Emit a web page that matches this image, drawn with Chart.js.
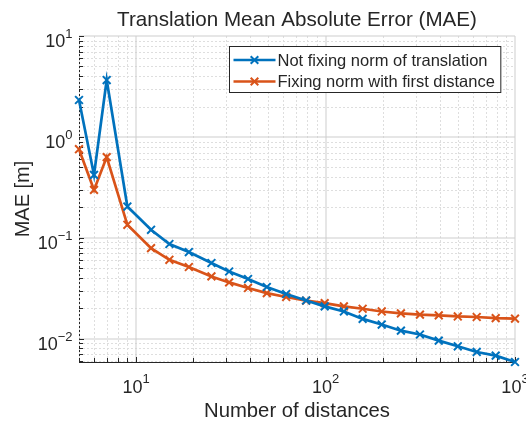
<!DOCTYPE html>
<html>
<head>
<meta charset="utf-8">
<script src="https://cdn.jsdelivr.net/npm/chart.js@4.4.0/dist/chart.umd.min.js"></script>
<style>
  html, body { margin: 0; padding: 0; background: #fff; }
</style>
</head>
<body>
<canvas id="maeChart" width="526" height="426"></canvas>
<script>
const distances = [5, 6, 7, 9, 12, 15, 19, 25, 31, 39, 49, 62, 79, 99, 125, 157, 198, 250, 315, 396, 499, 628, 791, 1000];
const maeNotFixed = [2.32, 0.42, 3.66, 0.204, 0.12, 0.0867, 0.0722, 0.0562, 0.0463, 0.0390, 0.0325, 0.0277,
  0.0239, 0.0209, 0.0186, 0.0157, 0.0138, 0.0120, 0.0110, 0.00956, 0.0084, 0.00738, 0.00679, 0.00587];
const maeFixed = [0.755, 0.298, 0.63, 0.1345, 0.079, 0.0605, 0.0513, 0.0414, 0.0361, 0.0318, 0.0283, 0.0259,
  0.0238, 0.0225, 0.0209, 0.0198, 0.0186, 0.0178, 0.0173, 0.0170, 0.0166, 0.0164, 0.0160, 0.0158];
const seriesLabels = ['Not fixing norm of translation', 'Fixing norm with first distance'];
const xTickExponents = [1, 2, 3];
const yTickExponents = [-2, -1, 0, 1];

const FONT = "'Liberation Sans', Arial, Helvetica, sans-serif";
const TEXT = '#262626';
const BLUE = '#0072BD';
const ORANGE = '#D95319';

function toPoints(ys) {
  return distances.map((d, i) => ({ x: d, y: ys[i] }));
}

// values 1..9 x 10^n that fall inside [min, max]
function logValues(min, max) {
  const out = [];
  for (let e = Math.floor(Math.log10(min)); e <= Math.ceil(Math.log10(max)); e++) {
    for (let m = 1; m <= 9; m++) {
      const v = m * Math.pow(10, e);
      if (v >= min * 0.9999 && v <= max * 1.0001) out.push({ v, major: m === 1 });
    }
  }
  return out;
}

// matlab-ish grid, inward ticks, superscript tick labels and legend box
const matlabAxes = {
  id: 'matlabAxes',
  beforeDatasetsDraw(chart) {
    const { ctx, chartArea: a, scales: { x, y } } = chart;
    const xs = logValues(x.min, x.max);
    const ys = logValues(y.min, y.max);
    ctx.save();
    ctx.lineWidth = 1;
    [false, true].forEach(major => {
      // major lines sit between pixels so they come out soft and 2px wide
      const off = major ? 0 : 0.5;
      ctx.setLineDash(major ? [] : [2, 2]);
      ctx.strokeStyle = major ? '#cdcdcd' : '#dedede';
      ctx.beginPath();
      xs.filter(t => t.major === major).forEach(t => {
        const px = Math.round(x.getPixelForValue(t.v)) + off;
        ctx.moveTo(px, a.top); ctx.lineTo(px, a.bottom);
      });
      ys.filter(t => t.major === major).forEach(t => {
        const py = Math.round(y.getPixelForValue(t.v)) + off;
        ctx.moveTo(a.left, py); ctx.lineTo(a.right, py);
      });
      ctx.stroke();
    });
    // ticks pointing inwards
    ctx.setLineDash([]);
    ctx.strokeStyle = TEXT;
    ctx.beginPath();
    xs.forEach(t => {
      const px = Math.round(x.getPixelForValue(t.v)) + 0.5;
      ctx.moveTo(px, a.bottom); ctx.lineTo(px, a.bottom - (t.major ? 5 : 4));
    });
    ys.forEach(t => {
      const py = Math.round(y.getPixelForValue(t.v)) + 0.5;
      ctx.moveTo(a.left, py); ctx.lineTo(a.left + (t.major ? 5 : 4), py);
    });
    ctx.stroke();
    ctx.restore();
  },
  afterDraw(chart) {
    const { ctx, chartArea: a, scales: { x, y } } = chart;
    ctx.save();
    ctx.fillStyle = TEXT;
    ctx.textBaseline = 'alphabetic';
    ctx.textAlign = 'left';
    const base = '18px ' + FONT, sup = '13px ' + FONT;
    const label = (e) => {
      const s = e < 0 ? '\u2212' + Math.abs(e) : String(e);
      ctx.font = base; const w1 = ctx.measureText('10').width;
      ctx.font = sup; const w2 = ctx.measureText(s).width;
      return { s, w1, w2 };
    };
    const put = (l, left, baseY, supY) => {
      ctx.font = base; ctx.fillText('10', left, baseY);
      ctx.font = sup; ctx.fillText(l.s, left + l.w1, supY);
    };
    xTickExponents.forEach(e => {
      const px = x.getPixelForValue(Math.pow(10, e));
      const l = label(e);
      put(l, px - (l.w1 + l.w2) / 2, a.bottom + 31, a.bottom + 21);
    });
    yTickExponents.forEach(e => {
      const py = y.getPixelForValue(Math.pow(10, e));
      const l = label(e);
      put(l, a.left - 6.5 - l.w1 - l.w2, py + 11, py + 2);
    });

    // legend, upper right inside the axes
    const lf = '16.5px ' + FONT;
    ctx.font = lf;
    const tw = Math.max(...chart.data.datasets.map(d => ctx.measureText(d.label).width));
    const bw = 4 + 42 + 2 + tw + 6, bh = 46;
    const bx = Math.round(a.right - 15 - bw) + 0.5, by = Math.round(a.top + 10) + 0.5;
    ctx.fillStyle = '#fff';
    ctx.fillRect(bx, by, bw, bh);
    ctx.strokeStyle = TEXT;
    ctx.lineWidth = 1;
    ctx.strokeRect(bx, by, bw, bh);
    chart.data.datasets.forEach((d, i) => {
      const cy = by + 13.5 + i * 21.5;
      ctx.strokeStyle = d.borderColor;
      ctx.lineWidth = d.borderWidth;
      ctx.beginPath();
      ctx.moveTo(bx + 4, cy); ctx.lineTo(bx + 46, cy);
      ctx.stroke();
      ctx.lineWidth = 2;
      ctx.beginPath();
      const cx = bx + 25, r = 3.8;
      ctx.moveTo(cx - r, cy - r); ctx.lineTo(cx + r, cy + r);
      ctx.moveTo(cx - r, cy + r); ctx.lineTo(cx + r, cy - r);
      ctx.stroke();
      ctx.fillStyle = TEXT;
      ctx.textBaseline = 'middle';
      ctx.font = lf;
      ctx.fillText(d.label, bx + 48, cy + 1);
    });
    ctx.restore();
  }
};

const lineStyle = (color) => ({
  borderColor: color,
  backgroundColor: color,
  borderWidth: 2.7,
  pointStyle: 'crossRot',
  pointRadius: 5.5,
  pointBorderWidth: 2,
  tension: 0,
  clip: false
});

new Chart(document.getElementById('maeChart'), {
  type: 'line',
  data: {
    datasets: [
      { label: seriesLabels[0], data: toPoints(maeNotFixed), ...lineStyle(BLUE) },
      { label: seriesLabels[1], data: toPoints(maeFixed), ...lineStyle(ORANGE) }
    ]
  },
  options: {
    responsive: false,
    animation: false,
    events: [],
    layout: { padding: { left: 0, right: 11, top: 0, bottom: 0 } },
    plugins: {
      legend: { display: false },
      tooltip: { enabled: false },
      title: {
        display: true,
        fullSize: false,
        text: 'Translation Mean Absolute Error (MAE)',
        color: TEXT,
        font: { family: FONT, size: 20.6, weight: 'normal', lineHeight: '24px' },
        padding: { top: 8, bottom: 4 }
      }
    },
    scales: {
      x: {
        type: 'logarithmic',
        min: distances[0],
        max: distances[distances.length - 1],
        grid: { display: false, drawTicks: false },
        border: { display: true, color: TEXT, width: 1 },
        ticks: { display: false },
        title: {
          display: true,
          text: 'Number of distances',
          color: TEXT,
          font: { family: FONT, size: 20.3, lineHeight: '24px' },
          padding: { top: 37, bottom: 3 }
        }
      },
      y: {
        type: 'logarithmic',
        min: Math.min(...maeNotFixed, ...maeFixed),
        max: 10,
        grid: { display: false, drawTicks: false },
        border: { display: true, color: TEXT, width: 1 },
        ticks: { display: false },
        title: {
          display: true,
          text: 'MAE [m]',
          color: TEXT,
          font: { family: FONT, size: 20, lineHeight: '24px' },
          padding: { top: 11, bottom: 44 }
        }
      }
    }
  },
  plugins: [matlabAxes]
});
</script>
</body>
</html>
